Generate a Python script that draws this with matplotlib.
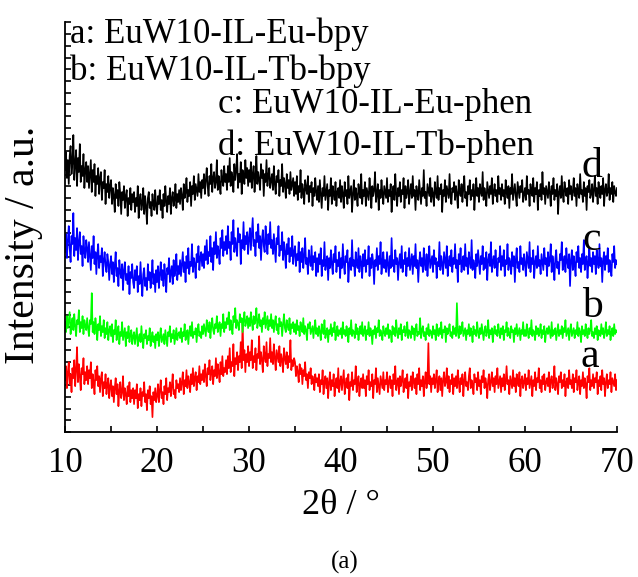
import matplotlib
matplotlib.use("Agg")
import matplotlib.pyplot as plt
from matplotlib.ticker import MultipleLocator
import numpy as np

plt.rcParams['font.family'] = ['Liberation Serif', 'DejaVu Serif']

# stacked XRD patterns, 2theta 10-70 deg, 0.1 deg step (a.u., already offset for stacking)
a_vals = [52, 66, 44, 60, 70, 48, 58, 40, 64, 54, 72, 46, 62, 85, 50, 68, 56, 42, 64, 58, 74, 48, 60, 52, 66,
          48, 62, 54, 70, 44, 58, 50, 38, 62, 52, 66, 46, 56, 40, 54, 60, 36, 50, 44, 58, 38, 48, 54, 34, 46,
          52, 36, 46, 30, 44, 54, 38, 48, 26, 42, 50, 34, 40, 56, 32, 44, 38, 28, 46, 36, 50, 30, 42, 34, 44,
          28, 42, 34, 48, 24, 38, 32, 44, 26, 40, 36, 50, 30, 38, 22, 42, 34, 46, 28, 36, 15, 40, 32, 44, 30,
          36, 48, 30, 42, 52, 34, 40, 28, 46, 38, 54, 32, 44, 40, 50, 36, 46, 58, 38, 42, 34, 52, 44, 48, 40,
          54, 42, 50, 60, 38, 52, 46, 62, 44, 56, 50, 40, 58, 48, 64, 46, 54, 60, 42, 56, 50, 66, 48, 58, 52,
          62, 50, 68, 56, 46, 64, 58, 72, 52, 60, 66, 48, 62, 56, 74, 54, 68, 60, 50, 70, 58, 76, 56, 64, 60,
          72, 58, 76, 64, 84, 60, 70, 66, 88, 56, 74, 68, 80, 62, 76, 70, 90, 64, 112, 72, 82, 60, 78, 70, 86,
          66, 80, 72, 92, 64, 76, 70, 84, 62, 78, 74, 96, 68, 80, 72, 60, 86, 76, 70, 90, 66, 78, 74, 94, 70,
          80, 68, 88, 74, 62, 82, 76, 70, 86, 66, 78, 72, 60, 84, 74, 68, 80, 64, 76, 70, 92, 62, 72, 66, 74,
          70, 56, 66, 60, 50, 68, 58, 64, 48, 62, 56, 70, 52, 58, 44, 60, 54, 64, 48, 56, 52, 42, 58, 50, 54,
          46, 58, 40, 52, 48, 62, 38, 50, 56, 44, 54, 34, 50, 60, 42, 52, 46, 58, 36, 48, 54, 44, 64, 40, 50,
          56, 42, 52, 62, 38, 48, 54, 44, 58, 32, 50, 46, 60, 42, 52, 48, 66, 40, 50, 56, 36, 48, 54, 44, 58,
          44, 52, 36, 56, 48, 62, 42, 50, 46, 58, 34, 52, 48, 64, 40, 54, 46, 38, 56, 50, 44, 60, 42, 52, 48,
          60, 40, 50, 56, 44, 52, 36, 58, 48, 66, 42, 50, 54, 38, 56, 46, 52, 62, 40, 48, 54, 44, 58, 34, 50,
          46, 56, 42, 60, 50, 44, 54, 38, 58, 48, 64, 42, 52, 46, 56, 36, 50, 60, 44, 52, 89, 48, 56, 40, 54,
          48, 58, 44, 52, 62, 40, 50, 56, 42, 54, 36, 52, 60, 46, 50, 64, 44, 56, 40, 52, 48, 58, 38, 54, 46,
          56, 44, 62, 50, 40, 54, 48, 58, 36, 52, 60, 46, 50, 42, 56, 64, 44, 52, 48, 38, 58, 50, 54, 42, 60,
          46, 52, 38, 56, 50, 62, 44, 54, 48, 34, 52, 58, 42, 50, 60, 46, 54, 40, 56, 48, 64, 44, 50, 56, 40,
          54, 46, 58, 42, 50, 66, 48, 52, 38, 56, 50, 44, 62, 46, 54, 40, 58, 50, 46, 60, 36, 52, 56, 44, 50,
          58, 42, 54, 48, 62, 44, 50, 56, 36, 52, 46, 60, 42, 54, 50, 64, 44, 52, 40, 56, 48, 58, 42, 50, 54,
          46, 60, 40, 52, 56, 44, 50, 66, 42, 54, 48, 38, 56, 50, 60, 44, 52, 46, 58, 36, 50, 54, 44, 62, 48,
          52, 44, 58, 40, 54, 50, 62, 42, 50, 56, 38, 52, 46, 60, 44, 54, 48, 34, 56, 50, 64, 42, 52, 46, 58,
          44, 54, 50, 60, 38, 52, 46, 56, 42, 62, 48, 54, 36, 50, 58, 44, 52, 48, 60, 40, 54, 50, 46, 58, 42,
          52]
b_vals = [110, 100, 116, 104, 112, 120, 98, 108, 114, 102, 118, 106, 96, 112, 108, 122, 100, 110, 104, 116, 98, 112, 106, 102, 114,
          104, 96, 112, 108, 139, 100, 110, 98, 114, 104, 92, 108, 102, 116, 96, 106, 100, 112, 94, 104, 98, 110, 92, 102, 106,
          96, 108, 90, 102, 98, 112, 92, 100, 106, 88, 100, 96, 110, 92, 98, 104, 86, 100, 94, 106, 90, 98, 102, 88, 96,
          100, 88, 96, 104, 86, 94, 98, 90, 106, 92, 84, 98, 94, 102, 88, 96, 92, 104, 86, 94, 100, 90, 96, 84, 98,
          92, 100, 86, 96, 104, 90, 94, 98, 88, 102, 94, 86, 100, 96, 106, 90, 98, 94, 102, 88, 96, 104, 92, 98, 100,
          94, 104, 90, 100, 96, 108, 92, 98, 102, 88, 100, 106, 96, 110, 94, 100, 98, 104, 90, 102, 108, 96, 100, 94, 106,
          98, 108, 102, 96, 112, 104, 100, 110, 94, 106, 114, 102, 98, 108, 104, 116, 100, 106, 110, 96, 108, 104, 118, 100, 110,
          104, 114, 108, 120, 102, 112, 106, 98, 116, 110, 124, 104, 112, 108, 102, 118, 110, 114, 100, 112, 120, 106, 110, 116, 104,
          114, 106, 120, 110, 102, 116, 108, 112, 124, 104, 110, 118, 106, 112, 100, 114, 108, 120, 104, 110, 116, 102, 112, 106, 118,
          104, 112, 100, 110, 116, 102, 108, 98, 114, 106, 110, 96, 108, 118, 104, 100, 112, 106, 102, 114, 98, 108, 104, 110, 100,
          108, 98, 112, 102, 106, 96, 110, 104, 100, 114, 98, 106, 102, 92, 108, 104, 110, 98, 102, 106, 94, 104, 112, 98, 104,
          96, 106, 100, 92, 108, 102, 98, 112, 94, 100, 104, 90, 102, 98, 108, 96, 104, 100, 110, 92, 100, 106, 96, 102, 98,
          104, 94, 110, 98, 102, 96, 106, 100, 90, 104, 98, 112, 96, 102, 100, 94, 108, 98, 104, 92, 100, 106, 98, 110, 96,
          100, 106, 92, 102, 98, 110, 96, 104, 100, 88, 102, 98, 106, 94, 104, 100, 112, 96, 102, 98, 92, 106, 100, 96, 104,
          98, 108, 94, 102, 100, 90, 106, 98, 104, 96, 112, 100, 94, 104, 98, 108, 92, 102, 100, 106, 96, 100, 110, 94, 102,
          100, 94, 106, 98, 104, 92, 102, 108, 96, 100, 98, 114, 94, 102, 106, 96, 100, 92, 104, 98, 108, 96, 102, 100, 94,
          106, 98, 102, 92, 108, 100, 96, 104, 98, 110, 94, 102, 100, 106, 90, 104, 98, 102, 108, 96, 100, 94, 106, 98, 104,
          96, 129, 100, 94, 106, 98, 102, 110, 96, 100, 104, 92, 102, 98, 108, 96, 104, 100, 90, 106, 98, 102, 96, 110, 100,
          94, 104, 98, 108, 100, 92, 102, 106, 96, 100, 112, 94, 102, 98, 104, 90, 100, 106, 98, 102, 96, 108, 100, 94, 104,
          98, 106, 92, 102, 100, 110, 96, 104, 98, 94, 106, 100, 102, 90, 104, 98, 108, 96, 100, 104, 92, 102, 98, 110, 96,
          102, 96, 108, 100, 94, 104, 98, 112, 96, 102, 100, 92, 106, 98, 104, 96, 100, 108, 94, 102, 98, 106, 90, 100, 104,
          98, 106, 100, 94, 110, 96, 102, 98, 104, 92, 100, 108, 96, 102, 98, 106, 94, 104, 100, 112, 96, 100, 104, 92, 102,
          108, 96, 100, 104, 94, 102, 98, 110, 96, 104, 100, 90, 106, 98, 102, 96, 108, 100, 94, 104, 98, 102, 112, 96, 100,
          94, 104, 98, 106, 92, 102, 100, 96, 108, 98, 104, 94, 100, 110, 96, 102, 98, 106, 92, 100, 104, 96, 108, 98, 102,
          100]
c_vals = [180, 198, 174, 192, 206, 184, 170, 196, 188, 219, 176, 194, 182, 204, 172, 190, 200, 178, 186, 166, 196, 180, 174, 192, 184,
          170, 190, 176, 162, 186, 174, 196, 168, 180, 158, 178, 188, 164, 176, 170, 184, 156, 172, 180, 166, 160, 178, 170, 152, 168,
          176, 158, 170, 150, 166, 180, 156, 164, 146, 172, 160, 154, 168, 142, 162, 170, 152, 158, 148, 166, 138, 160, 154, 168, 150,
          144, 162, 152, 166, 140, 156, 148, 170, 150, 136, 158, 164, 146, 154, 142, 168, 152, 160, 144, 156, 172, 148, 158, 140, 162,
          150, 166, 144, 158, 170, 152, 162, 146, 168, 156, 140, 164, 158, 174, 150, 160, 166, 148, 172, 156, 162, 178, 152, 166, 158,
          172, 156, 168, 180, 160, 170, 150, 176, 164, 184, 158, 170, 166, 188, 160, 174, 168, 154, 178, 170, 186, 162, 174, 180, 166,
          178, 164, 186, 172, 192, 168, 180, 176, 196, 170, 184, 162, 190, 178, 200, 174, 186, 180, 168, 194, 184, 202, 176, 190, 182,
          196, 178, 206, 184, 190, 172, 200, 188, 212, 180, 194, 186, 176, 204, 190, 198, 168, 192, 184, 210, 182, 196, 188, 200, 178,
          194, 204, 182, 198, 214, 186, 192, 176, 200, 190, 208, 184, 196, 172, 192, 202, 186, 180, 206, 190, 178, 198, 188, 210, 184,
          192, 178, 198, 184, 170, 194, 188, 206, 176, 186, 182, 200, 172, 190, 180, 164, 188, 178, 194, 170, 184, 176, 196, 168, 180,
          186, 166, 178, 172, 190, 160, 180, 170, 184, 164, 176, 194, 168, 174, 158, 182, 172, 166, 186, 162, 176, 170, 180, 156, 174,
          160, 178, 168, 184, 156, 172, 166, 190, 162, 170, 176, 152, 174, 164, 182, 168, 158, 178, 170, 186, 160, 172, 166, 180, 154,
          174, 164, 188, 168, 158, 176, 170, 182, 150, 168, 174, 162, 192, 166, 172, 156, 180, 168, 164, 184, 160, 176, 170, 154, 178,
          166, 182, 160, 172, 168, 186, 156, 174, 164, 178, 170, 148, 172, 166, 184, 162, 176, 168, 190, 158, 170, 180, 164, 172, 160,
          180, 168, 156, 176, 164, 194, 166, 172, 160, 182, 168, 174, 152, 170, 178, 164, 186, 160, 172, 168, 180, 156, 174, 166, 184,
          162, 170, 178, 158, 176, 166, 188, 164, 172, 150, 170, 180, 166, 174, 160, 184, 168, 162, 178, 156, 172, 186, 164, 170, 176,
          160, 182, 168, 174, 154, 170, 166, 190, 162, 176, 168, 158, 180, 172, 164, 186, 156, 170, 176, 166, 182, 160, 174, 168, 188,
          164, 172, 150, 178, 168, 184, 160, 170, 176, 162, 188, 166, 174, 158, 180, 170, 164, 192, 162, 172, 168, 154, 178, 166, 182,
          170, 158, 176, 168, 186, 162, 174, 164, 180, 152, 172, 178, 166, 190, 160, 170, 176, 164, 182, 168, 156, 174, 170, 186, 162,
          176, 166, 182, 156, 172, 168, 188, 162, 174, 170, 158, 180, 166, 176, 150, 172, 184, 164, 170, 160, 186, 168, 174, 162, 178,
          168, 156, 180, 172, 164, 190, 160, 174, 168, 182, 154, 170, 176, 164, 186, 166, 172, 158, 178, 170, 162, 184, 168, 174, 156,
          180, 166, 172, 188, 160, 176, 168, 152, 174, 182, 164, 170, 158, 178, 172, 190, 162, 168, 176, 160, 184, 170, 164, 178, 146,
          172, 182, 162, 176, 168, 156, 180, 170, 186, 164, 174, 160, 178, 168, 192, 162, 172, 176, 154, 170, 184, 166, 174, 160, 180,
          168, 176, 158, 182, 170, 164, 188, 166, 174, 150, 172, 180, 162, 176, 168, 184, 160, 172, 166, 156, 178, 170, 186, 164, 172,
          168]
d_vals = [262, 280, 254, 272, 248, 276, 286, 258, 270, 297, 252, 268, 282, 246, 274, 260, 288, 250, 266, 256, 278, 244, 262, 270, 250,
          266, 244, 258, 272, 240, 262, 250, 268, 236, 256, 248, 264, 238, 254, 260, 232, 250, 244, 262, 228, 248, 240, 256, 234, 246,
          252, 228, 244, 236, 220, 248, 234, 242, 226, 250, 238, 218, 240, 232, 246, 224, 236, 242, 216, 234, 228, 244, 222, 238, 230,
          240, 220, 234, 226, 246, 214, 232, 238, 222, 228, 244, 218, 236, 226, 208, 234, 240, 224, 230, 216, 238, 228, 222, 242, 226,
          218, 236, 228, 242, 222, 232, 214, 238, 226, 246, 230, 220, 236, 228, 244, 218, 234, 240, 226, 232, 248, 224, 238, 230, 242,
          228, 244, 236, 222, 248, 234, 240, 254, 230, 242, 236, 250, 226, 246, 238, 256, 232, 248, 242, 236, 258, 240, 250, 234, 252,
          244, 258, 238, 252, 264, 246, 236, 256, 248, 268, 240, 254, 260, 244, 250, 272, 242, 256, 248, 238, 262, 252, 246, 266, 250,
          258, 242, 266, 250, 274, 246, 260, 254, 240, 268, 252, 262, 278, 244, 258, 250, 270, 238, 262, 256, 248, 272, 254, 264, 246,
          262, 250, 270, 244, 258, 266, 240, 256, 276, 248, 260, 252, 242, 268, 254, 262, 236, 258, 250, 272, 246, 256, 264, 244, 252,
          258, 242, 266, 248, 238, 256, 250, 262, 236, 252, 246, 268, 240, 254, 248, 234, 258, 244, 252, 238, 260, 242, 248, 254, 236,
          250, 238, 256, 232, 246, 240, 262, 234, 248, 242, 228, 252, 244, 238, 256, 230, 246, 240, 250, 226, 244, 236, 254, 240, 232,
          246, 230, 252, 238, 224, 244, 236, 256, 232, 240, 248, 222, 242, 236, 254, 228, 246, 238, 232, 250, 226, 240, 244, 234, 252,
          230, 246, 238, 224, 250, 236, 242, 228, 256, 234, 240, 246, 220, 238, 252, 232, 244, 236, 226, 248, 240, 234, 258, 228, 242,
          236, 250, 226, 244, 238, 232, 254, 240, 224, 246, 236, 242, 260, 230, 238, 248, 222, 242, 234, 252, 238, 228, 246, 240, 234,
          254, 230, 242, 236, 248, 220, 240, 246, 232, 258, 238, 226, 244, 236, 250, 230, 242, 238, 254, 224, 246, 234, 240, 252, 228,
          240, 248, 234, 256, 236, 242, 222, 246, 238, 232, 252, 240, 228, 244, 236, 262, 234, 240, 226, 248, 242, 236, 254, 230, 244,
          238, 226, 250, 240, 234, 256, 232, 244, 238, 248, 220, 242, 236, 252, 230, 246, 240, 234, 258, 236, 228, 244, 240, 250, 232,
          246, 238, 224, 252, 240, 236, 248, 230, 244, 256, 234, 240, 226, 246, 238, 252, 232, 242, 236, 248, 222, 240, 254, 236, 244,
          230, 248, 240, 236, 260, 232, 244, 238, 226, 250, 242, 234, 246, 238, 254, 228, 240, 248, 236, 242, 230, 256, 238, 244, 232,
          248, 236, 242, 228, 252, 240, 234, 246, 224, 244, 238, 258, 232, 240, 248, 236, 226, 250, 242, 234, 246, 240, 252, 230, 238,
          244, 232, 256, 238, 242, 226, 248, 240, 236, 254, 230, 244, 238, 250, 222, 242, 236, 248, 232, 260, 238, 244, 228, 246, 240,
          234, 250, 240, 226, 246, 238, 254, 232, 242, 236, 248, 218, 240, 246, 234, 256, 238, 230, 250, 242, 236, 244, 228, 252, 238,
          246, 232, 240, 254, 236, 244, 226, 248, 240, 234, 258, 238, 242, 230, 250, 236, 244, 222, 246, 240, 252, 234, 238, 248, 230,
          242, 256, 236, 244, 228, 250, 240, 234, 246, 238, 254, 226, 242, 248, 236, 240, 258, 232, 244, 238, 250, 230, 246, 240, 236,
          244]

series = [a_vals, b_vals, c_vals, d_vals]
colors = ['#ff0000', '#00ff00', '#0000ff', '#000000']
letters = ['a', 'b', 'c', 'd']
names = ['a: EuW10-IL-Eu-bpy', 'b: EuW10-IL-Tb-bpy', 'c: EuW10-IL-Eu-phen', 'd: EuW10-IL-Tb-phen']

fig = plt.figure(figsize=(6.38, 5.77), dpi=100)
ax = fig.add_axes([0.102, 0.251, 0.865, 0.711])

for vals, col in zip(series, colors):
    x = np.linspace(10, 70, len(vals))
    ax.plot(x, vals, color=col, lw=1.2)

ax.set_xlim(10, 70)
ax.set_ylim(0, 410)

# letters at the right end of each curve
letter_pos = [(67.1, 65), (67.3, 115), (67.3, 182), (67.3, 255)]
for let, (lx, ly) in zip(letters, letter_pos):
    ax.text(lx, ly, let, fontsize=30, ha='center', va='baseline')

# sample names
name_pos = [(10.5, 389), (10.5, 352), (26.6, 319), (26.6, 277)]
for nm, (nx, ny) in zip(names, name_pos):
    ax.text(nx, ny, nm, fontsize=25, ha='left', va='baseline')

ax.spines['top'].set_visible(False)
ax.spines['right'].set_visible(False)
ax.spines['left'].set_linewidth(1.3)
ax.spines['bottom'].set_linewidth(1.3)

ax.xaxis.set_major_locator(MultipleLocator(10))
ax.xaxis.set_minor_locator(MultipleLocator(5))
ax.yaxis.set_major_locator(MultipleLocator(11.7))
ax.set_yticklabels([])
ax.tick_params(axis='both', which='both', direction='in', length=4, width=1.2)
ax.tick_params(axis='x', labelsize=25, pad=11)

ax.set_xlabel('2θ / °', fontsize=26, labelpad=6)
ax.set_ylabel('Intensity / a.u.', fontsize=30)
ax.yaxis.set_label_coords(-0.04, 0.456)

fig.text(0.541, 0.026, '(a)', fontsize=18, ha='center', va='center')

fig.savefig('out.png', dpi=100)
